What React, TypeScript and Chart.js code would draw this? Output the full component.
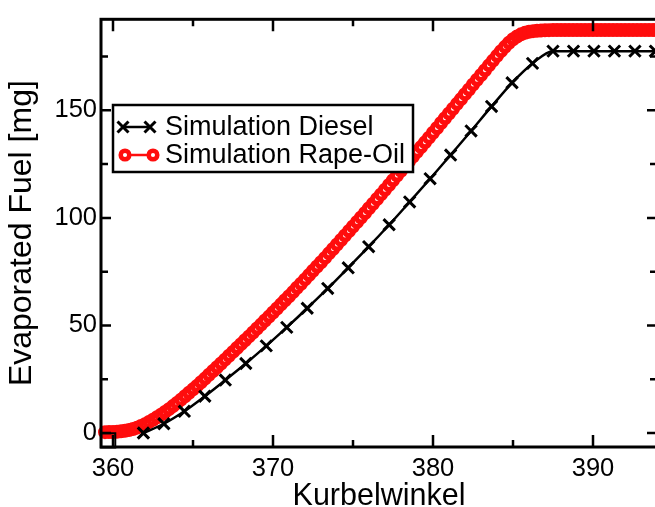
import { useEffect, useRef } from 'react';
import { Chart, registerables } from 'chart.js';

Chart.register(...registerables);

// ---- data ----
const dieselX = [361.9, 363.18, 364.46, 365.74, 367.02, 368.3, 369.58, 370.86, 372.14, 373.42, 374.7, 375.98, 377.26, 378.54, 379.82, 381.1, 382.38, 383.66, 384.94, 386.22, 387.5, 388.78, 390.06, 391.34, 392.62, 393.9, 395.18];
const dieselY = [0, 4.3, 10.1, 17.1, 24.6, 32.3, 40.5, 49.1, 58.0, 67.2, 76.8, 86.6, 96.8, 107.4, 118.2, 129.2, 140.4, 151.8, 162.8, 171.8, 177.5, 177.5, 177.5, 177.5, 177.5, 177.5, 177.5];

const rapeX = [
  359.5, 359.75, 360, 360.25, 360.5, 360.75, 361, 361.25, 361.5, 361.75,
  362, 362.25, 362.5, 362.75, 363, 363.25, 363.5, 363.75, 364, 364.25,
  364.5, 364.75, 365, 365.25, 365.5, 365.75, 366, 366.25, 366.5, 366.75,
  367, 367.25, 367.5, 367.75, 368, 368.25, 368.5, 368.75, 369, 369.25,
  369.5, 369.75, 370, 370.25, 370.5, 370.75, 371, 371.25, 371.5, 371.75,
  372, 372.25, 372.5, 372.75, 373, 373.25, 373.5, 373.75, 374, 374.25,
  374.5, 374.75, 375, 375.25, 375.5, 375.75, 376, 376.25, 376.5, 376.75,
  377, 377.25, 377.5, 377.75, 378, 378.25, 378.5, 378.75, 379, 379.25,
  379.5, 379.75, 380, 380.25, 380.5, 380.75, 381, 381.25, 381.5, 381.75,
  382, 382.25, 382.5, 382.75, 383, 383.25, 383.5, 383.75, 384, 384.25,
  384.5, 384.75, 385, 385.25, 385.5, 385.75, 386, 386.25, 386.5, 386.75,
  387, 387.25, 387.5, 387.75, 388, 388.25, 388.5, 388.75, 389, 389.25,
  389.5, 389.75, 390, 390.25, 390.5, 390.75, 391, 391.25, 391.5, 391.75,
  392, 392.25, 392.5, 392.75, 393, 393.25, 393.5, 393.75, 394, 394.25,
  394.5,
];
const rapeY = [
  0.4, 0.45, 0.5, 0.6, 0.8, 1.05, 1.4, 1.9, 2.5, 3.25,
  4.1, 5.1, 6.2, 7.3, 8.5, 9.8, 11.1, 12.5, 14.0, 15.5,
  17.1, 18.7, 20.3, 21.9, 23.6, 25.3, 27.1, 28.8, 30.6, 32.3,
  34.1, 35.9, 37.7, 39.5, 41.3, 43.1, 44.9, 46.7, 48.6, 50.4,
  52.3, 54.1, 56.0, 57.9, 59.8, 61.7, 63.6, 65.5, 67.5, 69.4,
  71.4, 73.4, 75.4, 77.4, 79.4, 81.4, 83.5, 85.5, 87.6, 89.7,
  91.8, 93.9, 96.0, 98.1, 100.2, 102.3, 104.5, 106.6, 108.8, 110.9,
  113.1, 115.3, 117.5, 119.7, 121.9, 124.1, 126.3, 128.5, 130.7, 132.9,
  135.1, 137.3, 139.6, 141.8, 144.1, 146.3, 148.5, 150.7, 153.0, 155.2,
  157.5, 159.7, 162.0, 164.2, 166.4, 168.6, 170.9, 173.1, 175.3, 177.5,
  179.5, 181.4, 183.0, 184.3, 185.3, 186.0, 186.5, 186.8, 187.0, 187.1,
  187.2, 187.25, 187.3, 187.3, 187.3, 187.3, 187.3, 187.3, 187.3, 187.3,
  187.3, 187.3, 187.3, 187.3, 187.3, 187.3, 187.3, 187.3, 187.3, 187.3,
  187.3, 187.3, 187.3, 187.3, 187.3, 187.3, 187.3, 187.3, 187.3, 187.3,
  187.3,
];

const squareX = [359.7];
const squareY = [-3.4];

const seriesLabels = ['Simulation Diesel', 'Simulation Rape-Oil'];
const xTitle = 'Kurbelwinkel';
const yTitle = 'Evaporated Fuel [mg]';

const xTicks = [360, 370, 380, 390];
const xMinorTicks = [365, 375, 385];
const yTicks = [0, 50, 100, 150];
const yMinorTicks = [25, 75, 125, 175];

const RED = '#ff0d0d';
const FONT = '"Liberation Sans", Arial, Helvetica, sans-serif';

const framePlugin = {
  id: 'frameAndLegend',
  afterDatasetsDraw(chart: any) {
    const { ctx, chartArea: a, scales } = chart;
    const x = scales.x;
    const y = scales.y;
    ctx.save();
    ctx.strokeStyle = '#000';
    ctx.lineWidth = 3;
    ctx.strokeRect(a.left, a.top, a.right - a.left, a.bottom - a.top);

    ctx.lineWidth = 2.5;
    ctx.beginPath();
    const xt = (v: number, len: number) => {
      const p = x.getPixelForValue(v);
      ctx.moveTo(p, a.bottom);
      ctx.lineTo(p, a.bottom - len);
      ctx.moveTo(p, a.top);
      ctx.lineTo(p, a.top + len);
    };
    const yt = (v: number, len: number) => {
      const p = y.getPixelForValue(v);
      ctx.moveTo(a.left, p);
      ctx.lineTo(a.left + len, p);
      ctx.moveTo(a.right, p);
      ctx.lineTo(a.right - len, p);
    };
    xTicks.forEach((v) => xt(v, 12));
    xMinorTicks.forEach((v) => xt(v, 7));
    yTicks.forEach((v) => yt(v, 10));
    yMinorTicks.forEach((v) => yt(v, 7));
    ctx.stroke();

    // legend
    const bx = 113, by = 105, bw = 300, bh = 67;
    ctx.fillStyle = '#fff';
    ctx.fillRect(bx, by, bw, bh);
    ctx.lineWidth = 2.5;
    ctx.strokeStyle = '#000';
    ctx.strokeRect(bx, by, bw, bh);

    const rows = [127, 155];
    // diesel symbol
    ctx.lineWidth = 2.5;
    ctx.beginPath();
    ctx.moveTo(123, rows[0]);
    ctx.lineTo(150, rows[0]);
    ctx.stroke();
    ctx.lineWidth = 3;
    [123, 150].forEach((cx) => {
      ctx.beginPath();
      ctx.moveTo(cx - 5.5, rows[0] - 5.5);
      ctx.lineTo(cx + 5.5, rows[0] + 5.5);
      ctx.moveTo(cx - 5.5, rows[0] + 5.5);
      ctx.lineTo(cx + 5.5, rows[0] - 5.5);
      ctx.stroke();
    });
    // rape symbol
    ctx.strokeStyle = RED;
    ctx.lineWidth = 2.5;
    ctx.beginPath();
    ctx.moveTo(125, rows[1]);
    ctx.lineTo(153, rows[1]);
    ctx.stroke();
    ctx.lineWidth = 4.5;
    [125, 153].forEach((cx) => {
      ctx.beginPath();
      ctx.arc(cx, rows[1], 4.3, 0, Math.PI * 2);
      ctx.fillStyle = '#fff';
      ctx.fill();
      ctx.stroke();
    });

    ctx.fillStyle = '#000';
    ctx.font = `27px ${FONT}`;
    ctx.textBaseline = 'middle';
    ctx.textAlign = 'left';
    ctx.fillText(seriesLabels[0], 165, rows[0] + 1);
    ctx.fillText(seriesLabels[1], 165, rows[1] + 1);
    ctx.restore();
  },
};

export default function App() {
  const ref = useRef<HTMLCanvasElement>(null);

  useEffect(() => {
    if (!ref.current) return;
    const chart = new Chart(ref.current, {
      type: 'line',
      data: {
        datasets: [
          {
            label: 'marker',
            data: squareX.map((v, i) => ({ x: v, y: squareY[i] })),
            showLine: false,
            pointStyle: 'rect',
            pointRadius: 10,
            pointBorderWidth: 2,
            pointBorderColor: '#000',
            pointBackgroundColor: 'rgba(0,0,0,0)',
            clip: 10,
          },
          {
            label: seriesLabels[0],
            data: dieselX.map((v, i) => ({ x: v, y: dieselY[i] })),
            borderColor: '#000',
            borderWidth: 2.5,
            pointStyle: 'crossRot',
            pointRadius: 8,
            pointBorderWidth: 3,
            pointBorderColor: '#000',
            cubicInterpolationMode: 'monotone',
            fill: false,
          },
          {
            label: seriesLabels[1],
            data: rapeX.map((v, i) => ({ x: v, y: rapeY[i] })),
            borderColor: RED,
            borderWidth: 2,
            pointStyle: 'circle',
            pointRadius: 4.5,
            pointBorderWidth: 5,
            pointBorderColor: RED,
            pointBackgroundColor: '#fff',
            cubicInterpolationMode: 'monotone',
            fill: false,
            clip: { left: 10, top: 0, right: 0, bottom: 10 },
          },
        ],
      } as any,
      options: {
        animation: false,
        responsive: false,
        maintainAspectRatio: false,
        layout: { padding: { left: 0, top: 13, right: 43, bottom: 0 } },
        plugins: { legend: { display: false }, tooltip: { enabled: false } },
        scales: {
          x: {
            type: 'linear',
            min: 359.25,
            max: 394,
            grid: { display: false, drawTicks: false },
            border: { display: false },
            afterBuildTicks: (s: any) => {
              s.ticks = xTicks.map((v) => ({ value: v }));
            },
            afterFit: (s: any) => {
              s.height = 60;
            },
            ticks: {
              color: '#000',
              padding: 7,
              maxRotation: 0,
              font: { family: FONT, size: 25.5 },
            },
            title: {
              display: true,
              text: xTitle,
              color: '#000',
              font: { family: FONT, size: 30.5, lineHeight: 1 },
              padding: { top: 0, bottom: -5 },
            },
          },
          y: {
            type: 'linear',
            min: -6.5,
            max: 192.3,
            grid: { display: false, drawTicks: false },
            border: { display: false },
            afterBuildTicks: (s: any) => {
              s.ticks = yTicks.map((v) => ({ value: v }));
            },
            afterFit: (s: any) => {
              s.width = 101;
            },
            ticks: {
              color: '#000',
              padding: 4,
              font: { family: FONT, size: 25.5 },
            },
            title: {
              display: true,
              text: yTitle,
              color: '#000',
              font: { family: FONT, size: 32, lineHeight: 1 },
              padding: { top: 6, bottom: 0 },
            },
          },
        },
      },
      plugins: [framePlugin],
    } as any);
    return () => chart.destroy();
  }, []);

  return (
    <div style={{ position: 'fixed', left: 0, top: 0, width: 655, height: 507, overflow: 'hidden', background: '#fff' }}>
      <canvas ref={ref} width={700} height={507} style={{ display: 'block' }} />
    </div>
  );
}
